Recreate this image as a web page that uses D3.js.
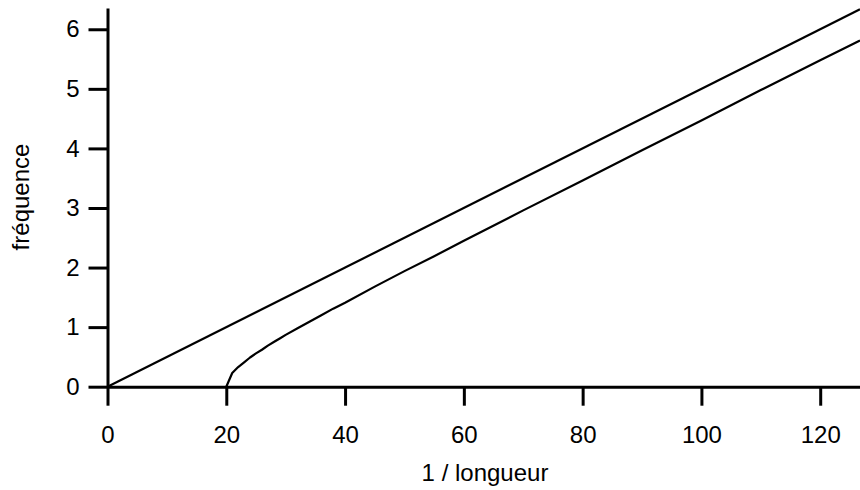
<!DOCTYPE html>
<html>
<head>
<meta charset="utf-8">
<script src="https://cdn.jsdelivr.net/npm/d3@7"></script>
<style>
  html, body { margin: 0; padding: 0; background: #fff; }
  svg { display: block; }
  text { font-family: "Liberation Sans", Arial, sans-serif; fill: #000; }
</style>
</head>
<body>
<svg id="chart" width="860" height="490"></svg>
<script>
// ---- data ----
const xTicks = [0, 20, 40, 60, 80, 100, 120];
const yTicks = [0, 1, 2, 3, 4, 5, 6];
const xLabel = "1 / longueur";
const yLabel = "fréquence";

// straight line
const line1X = [0, 126.7];
const line1Y = [0, 6.335];

// curved line (starts at 20)
const line2X = [20, 21, 22, 23, 24, 25, 26, 27, 28, 29, 30, 32, 34, 36, 38, 40, 45, 50, 55, 60, 70, 80, 90, 100, 110, 120, 126.7];
const line2Y = [0, 0.23, 0.33, 0.41, 0.49, 0.56, 0.62, 0.69, 0.75, 0.81, 0.87, 0.98, 1.09, 1.20, 1.31, 1.41, 1.68, 1.94, 2.19, 2.45, 2.96, 3.46, 3.97, 4.47, 4.98, 5.48, 5.81];

// ---- drawing ----
const svg = d3.select("#chart");
const x = d3.scaleLinear().domain([0, 126.7]).range([107.5, 860]);
const y = d3.scaleLinear().domain([0, 6.357]).range([386.7, 8]);

const xAxis = d3.axisBottom(x).tickValues(xTicks).tickSize(19).tickSizeOuter(0).tickPadding(20).tickFormat(d3.format("d"));
const yAxis = d3.axisLeft(y).tickValues(yTicks).tickSize(19).tickSizeOuter(0).tickPadding(9).tickFormat(d3.format("d"));

const gx = svg.append("g").attr("transform", `translate(0,${y(0)})`).call(xAxis);
const gy = svg.append("g").attr("transform", `translate(${x(0)},0)`).call(yAxis);

[gx, gy].forEach(g => {
  g.select(".domain").attr("stroke", "#000").attr("stroke-width", 3);
  g.selectAll(".tick line").attr("stroke", "#000").attr("stroke-width", 3);
  g.selectAll(".tick text").attr("font-size", 24).attr("font-family", "Liberation Sans, Arial, sans-serif").attr("fill", "#000");
});

const lineGen = d3.line().x(d => x(d[0])).y(d => y(d[1]));
const d1 = line1X.map((v, i) => [v, line1Y[i]]);
const d2 = line2X.map((v, i) => [v, line2Y[i]]);

svg.append("path").datum(d1).attr("d", lineGen)
  .attr("fill", "none").attr("stroke", "#000").attr("stroke-width", 2.2);
svg.append("path").datum(d2).attr("d", lineGen)
  .attr("fill", "none").attr("stroke", "#000").attr("stroke-width", 2.2).attr("stroke-linejoin", "round");

svg.append("text").attr("x", 485).attr("y", 481).attr("text-anchor", "middle")
  .attr("font-size", 24).text(xLabel);
svg.append("text").attr("transform", "translate(29,197) rotate(-90)").attr("text-anchor", "middle")
  .attr("font-size", 24).text(yLabel);
</script>
</body>
</html>
